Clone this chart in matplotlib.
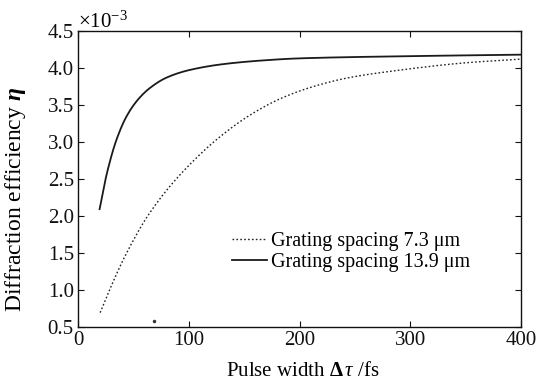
import matplotlib
matplotlib.use("Agg")
import matplotlib.pyplot as plt
import numpy as np

plt.rcParams['font.family'] = ['Liberation Serif', 'DejaVu Serif']
plt.rcParams['mathtext.fontset'] = 'custom'
plt.rcParams['mathtext.rm'] = 'Liberation Serif'
plt.rcParams['mathtext.it'] = 'Liberation Serif:italic'
plt.rcParams['mathtext.bf'] = 'Liberation Serif:bold'
plt.rcParams['mathtext.bfit'] = 'Liberation Serif:bold:italic'

# Data (efficiency in units of 1e-3)
x_73 = [20, 30, 40, 50, 60, 70, 83, 100, 125, 155, 185, 215, 245, 290, 350, 400]
eta_73 = [0.69, 1.05, 1.38, 1.67, 1.93, 2.15, 2.40, 2.68, 3.03, 3.36, 3.60, 3.76, 3.87, 3.97, 4.07, 4.12]

x_139 = [19.5, 26, 35, 44, 54, 65, 80, 100, 130, 165, 200, 300, 400]
eta_139 = [2.09, 2.57, 3.04, 3.35, 3.57, 3.73, 3.87, 3.97, 4.05, 4.10, 4.13, 4.16, 4.18]

speck_x = [69]
speck_y = [0.58]

xticks = [0, 100, 200, 300, 400]
yticks = [0.5, 1.0, 1.5, 2.0, 2.5, 3.0, 3.5, 4.0, 4.5]


def smooth(xs, ys, n=400):
    xs = np.asarray(xs, float); ys = np.asarray(ys, float)
    h = np.diff(xs); d = np.diff(ys) / h
    m = np.zeros_like(ys)
    for k in range(1, len(xs) - 1):
        if d[k-1] * d[k] > 0:
            w1 = 2*h[k] + h[k-1]; w2 = h[k] + 2*h[k-1]
            m[k] = (w1 + w2) / (w1/d[k-1] + w2/d[k])
    m[0] = d[0]; m[-1] = d[-1]
    xx = np.linspace(xs[0], xs[-1], n)
    idx = np.clip(np.searchsorted(xs, xx) - 1, 0, len(xs) - 2)
    t = (xx - xs[idx]) / h[idx]
    h00 = 2*t**3 - 3*t**2 + 1; h10 = t**3 - 2*t**2 + t
    h01 = -2*t**3 + 3*t**2; h11 = t**3 - t**2
    yy = h00*ys[idx] + h10*h[idx]*m[idx] + h01*ys[idx+1] + h11*h[idx]*m[idx+1]
    return xx, yy


fig = plt.figure(figsize=(5.47, 3.80), dpi=100)
ax = fig.add_axes([0.1426, 0.1403, 0.8099, 0.7781])

xs, ys = smooth(x_73, eta_73)
ax.plot(xs, ys, color='#222222', lw=1.0, linestyle=(0, (1.2, 1.6)),
        label='Grating spacing 7.3 μm')
xs, ys = smooth(x_139, eta_139)
ax.plot(xs, ys, color='#1a1a1a', lw=1.3, linestyle='-',
        label='Grating spacing 13.9 μm')
ax.plot(speck_x, speck_y, 'o', color='#333333', ms=1.5)

ax.set_xlim(0, 400)
ax.set_ylim(0.5, 4.5)
ax.set_xticks(xticks)
ax.set_yticks(yticks)
ax.set_xticklabels([str(v) for v in xticks])
ax.set_yticklabels([f'{v:.1f}' for v in yticks])
ax.tick_params(direction='in', top=True, right=True, length=4, width=0.8,
               labelsize=15, colors='#111111', pad=3)
for s in ax.spines.values():
    s.set_linewidth(1.0)
    s.set_color('#111111')

ax.set_xlabel(r'Pulse width $\mathbf{\Delta}\,\mathit{\tau}$ /fs', fontsize=15)
ax.xaxis.set_label_coords(0.508, -0.118)
ax.set_ylabel(r'Diffraction efficiency $\mathbfit{\eta}$', fontsize=17)
ax.yaxis.set_label_coords(-0.113, 0.432)
ax.text(0.0, 0.993, r'×10$^{\mathregular{-3}}$', transform=ax.transAxes,
        fontsize=15, ha='left', va='bottom')

leg = ax.legend(loc='center left', bbox_to_anchor=(0.348, 0.254), frameon=False,
                fontsize=14.5, handlelength=1.75, handletextpad=0.2,
                labelspacing=0.1, borderaxespad=0.0, borderpad=0.0)

fig.savefig('out.png', dpi=100)
